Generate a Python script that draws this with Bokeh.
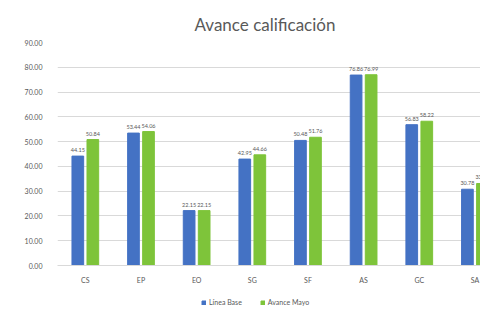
from bokeh.plotting import figure
from bokeh.layouts import column
from bokeh.models import ColumnDataSource, FixedTicker, Range1d, Legend, LegendItem, NumeralTickFormatter
from bokeh.core.properties import value
from bokeh.embed import file_html
from bokeh.resources import INLINE

categories = ["CS", "EP", "EO", "SG", "SF", "AS", "GC", "SA"]
linea_base = [44.15, 53.44, 22.15, 42.95, 50.48, 76.86, 56.83, 30.78]
avance_mayo = [50.84, 54.06, 22.15, 44.66, 51.76, 76.99, 58.22, 33.10]
y_ticks = [0, 10, 20, 30, 40, 50, 60, 70, 80, 90]

idx = list(range(len(categories)))
off = 0.135
bw = 0.21
blue = "#4472C4"
green = "#7EC43A"
FONT = "Lato"

src_b = ColumnDataSource(dict(x=[i - off for i in idx], top=linea_base,
                              lab=["%.2f" % v for v in linea_base]))
src_g = ColumnDataSource(dict(x=[i + off for i in idx], top=avance_mayo,
                              lab=["%.2f" % v for v in avance_mayo]))

p = figure(frame_width=423, frame_height=223, output_backend="svg", toolbar_location=None,
           x_range=Range1d(-0.5, 7.1), y_range=Range1d(0, 90),
           min_border_left=57, min_border_right=0, min_border_top=42, min_border_bottom=26,
           title="Avance calificación")
p.outline_line_color = None
p.background_fill_color = "white"

p.title.text_font = FONT
p.title.text_font_size = "17px"
p.title.text_font_style = "normal"
p.title.text_color = "#595959"
p.title.align = "left"
p.title.offset = 137
p.title.standoff = 16

rb = p.vbar(x="x", top="top", width=bw, source=src_b, color=blue)
rg = p.vbar(x="x", top="top", width=bw, source=src_g, color=green)

for s in (src_b, src_g):
    p.text(x="x", y="top", text="lab", source=s, text_font=value(FONT),
           text_font_size="5.5px", text_color="#595959", text_align="center",
           text_baseline="bottom", y_offset=-4)

p.xaxis.ticker = FixedTicker(ticks=idx)
p.xaxis.major_label_overrides = {i: c for i, c in zip(idx, categories)}
p.xaxis.major_tick_line_color = None
p.xaxis.minor_tick_line_color = None
p.xaxis.major_tick_out = 0
p.xaxis.major_tick_in = 0
p.xaxis.axis_line_color = "#D9D9D9"
p.xaxis.major_label_text_font = FONT
p.xaxis.major_label_text_font_size = "7px"
p.xaxis.major_label_text_color = "#595959"
p.xaxis.major_label_standoff = 10

p.yaxis.ticker = FixedTicker(ticks=y_ticks)
p.yaxis.formatter = NumeralTickFormatter(format="0.00")
p.yaxis.axis_line_color = None
p.yaxis.major_tick_line_color = None
p.yaxis.minor_tick_line_color = None
p.yaxis.major_label_text_font = FONT
p.yaxis.major_label_text_font_size = "7px"
p.yaxis.major_label_text_color = "#595959"
p.yaxis.major_label_standoff = 9

p.xgrid.grid_line_color = None
p.ygrid.ticker = FixedTicker(ticks=y_ticks)
p.ygrid.grid_line_color = "#D9D9D9"
p.ygrid.grid_line_width = 1

# Legend strip below the chart
leg = figure(width=480, height=22, output_backend="svg", toolbar_location=None,
             x_range=Range1d(100, 101), y_range=Range1d(100, 101),
             x_axis_type=None, y_axis_type=None, min_border=0)
leg.outline_line_color = None
leg.xgrid.grid_line_color = None
leg.ygrid.grid_line_color = None
lb = leg.vbar(x="x", top="top", width=bw, source=src_b, color=blue)
lg = leg.vbar(x="x", top="top", width=bw, source=src_g, color=green)

legend = Legend(items=[LegendItem(label="Línea Base", renderers=[lb]),
                       LegendItem(label="Avance Mayo", renderers=[lg])],
                orientation="horizontal", location=(144, 7))
legend.label_text_font = FONT
legend.label_text_font_size = "7px"
legend.label_text_color = "#595959"
legend.glyph_width = 5
legend.glyph_height = 5
legend.label_height = 7
legend.label_standoff = 3
legend.spacing = 18
legend.padding = 2
legend.margin = 0
legend.border_line_color = None
legend.background_fill_alpha = 0
leg.add_layout(legend, "center")

layout = column(p, leg, spacing=0)
open("out.html", "w").write(file_html(layout, INLINE))
